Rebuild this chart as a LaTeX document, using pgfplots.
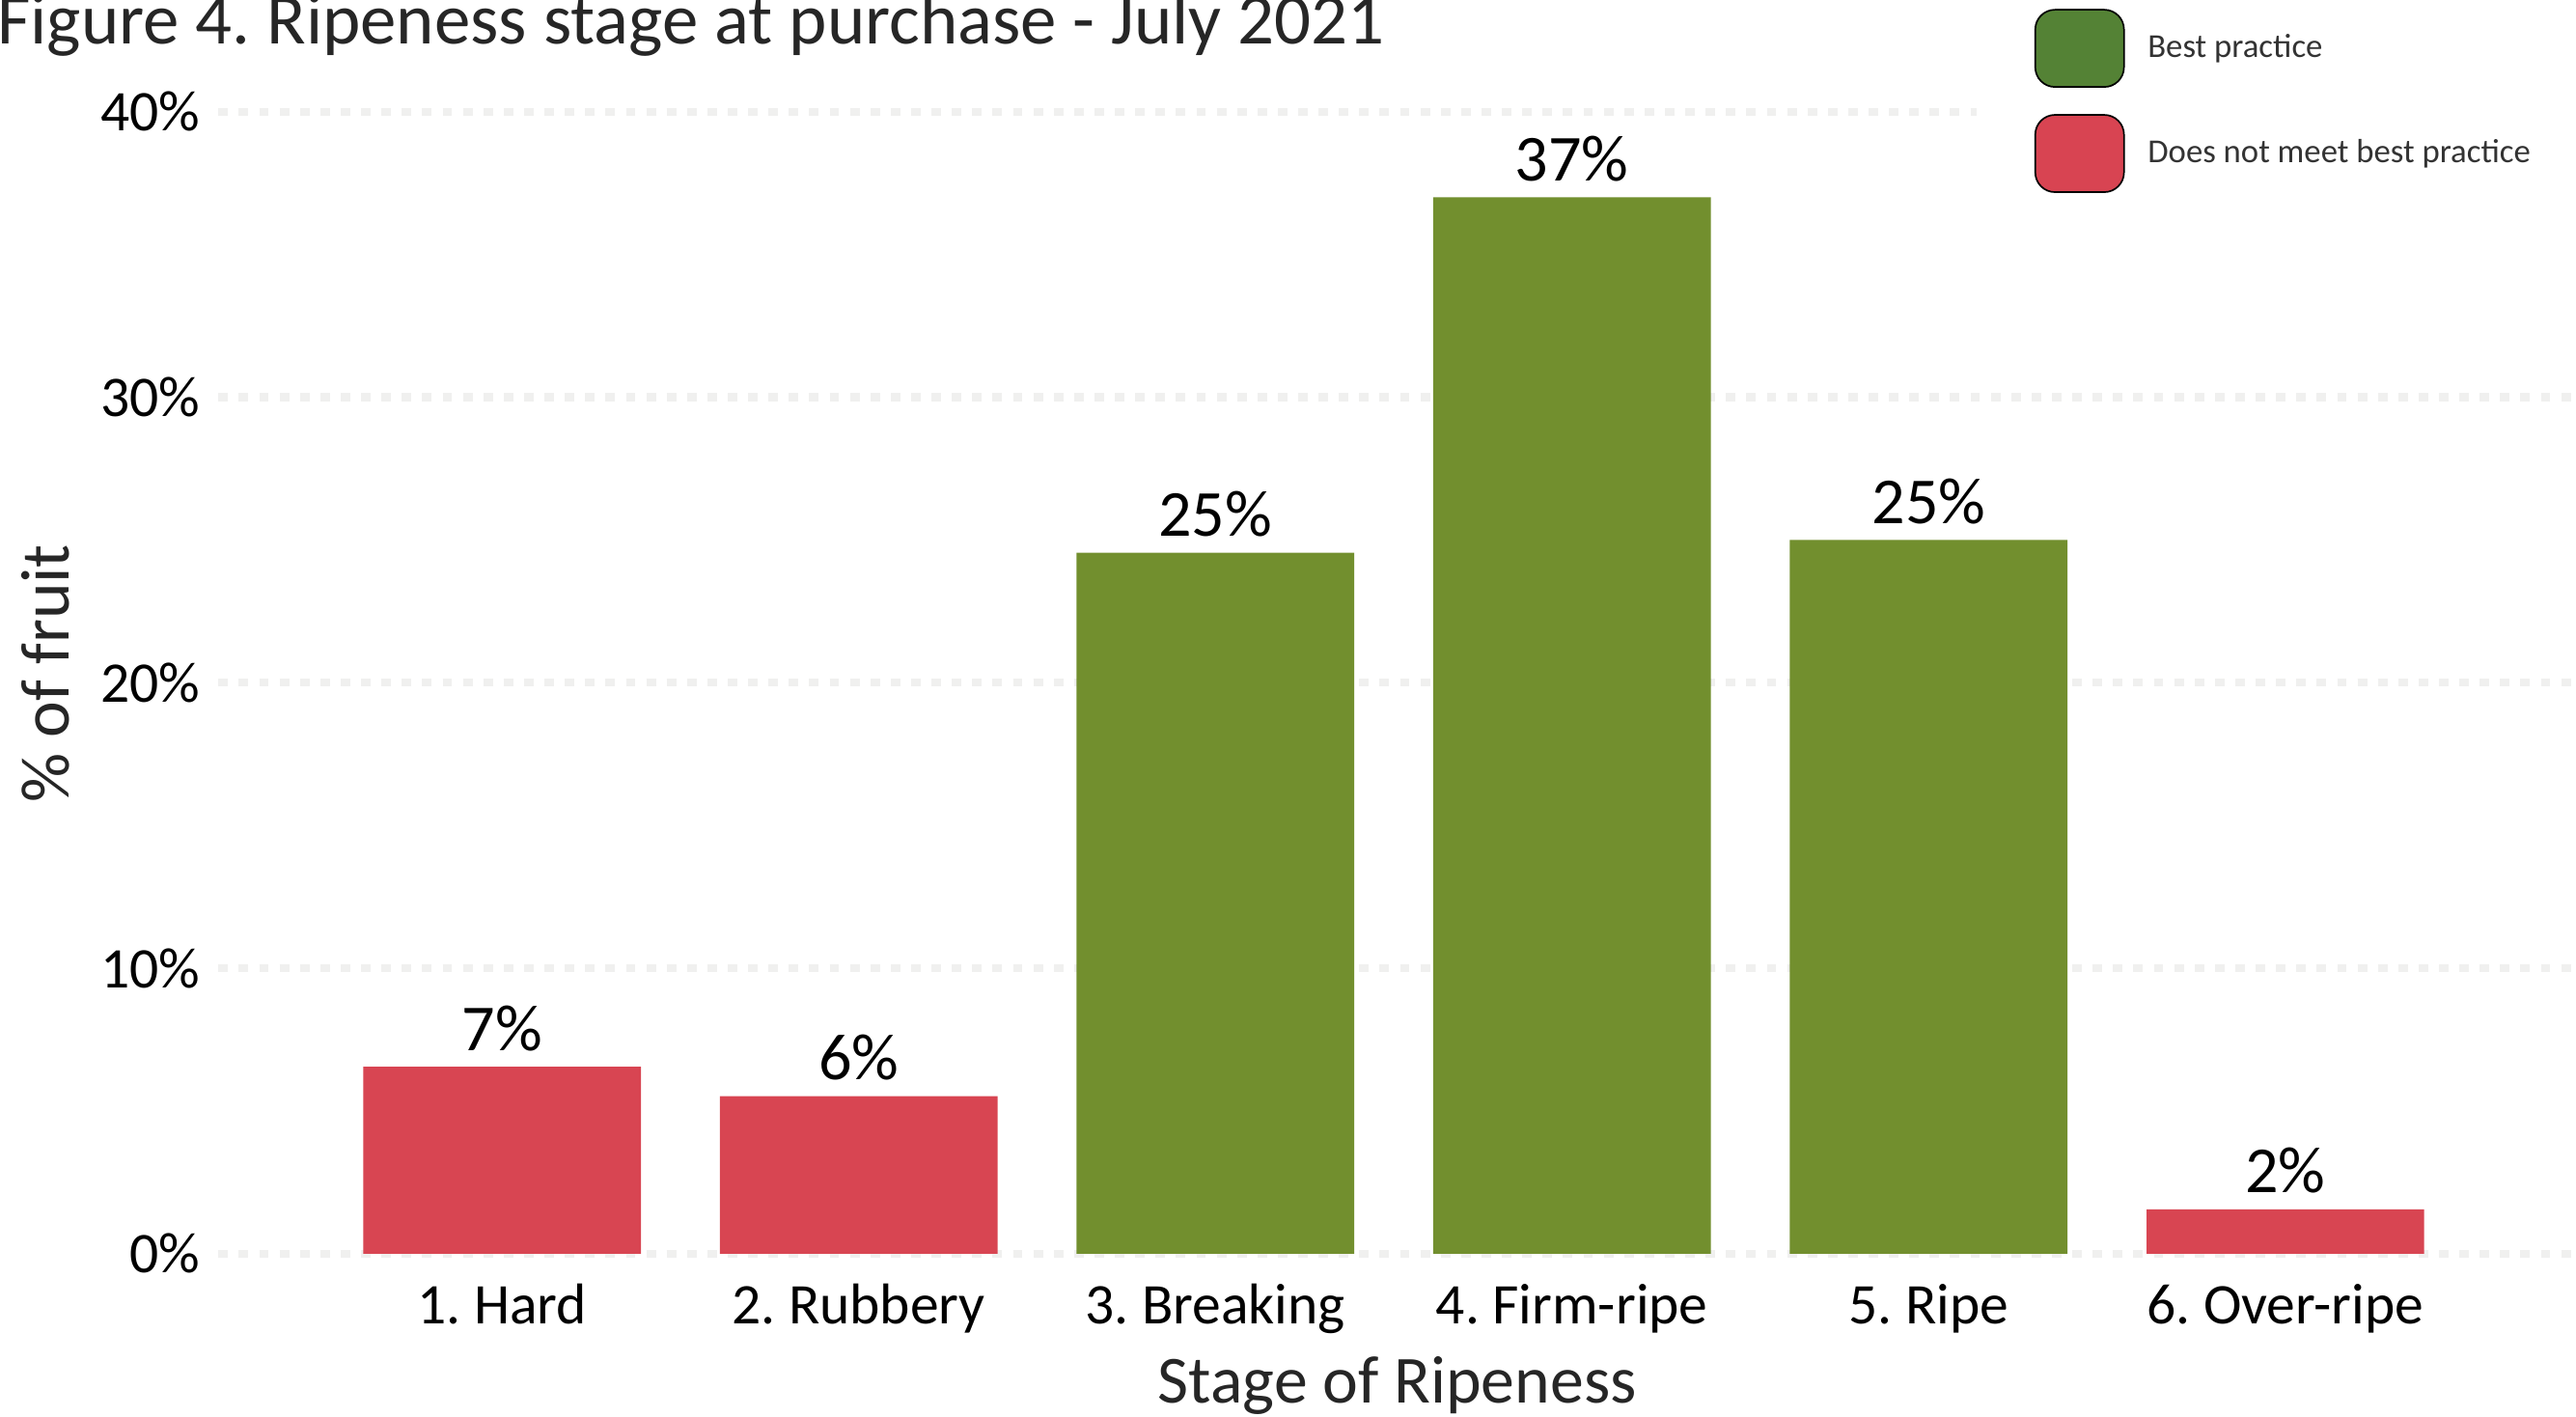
\documentclass[border=0pt]{standalone}
\usepackage{fontspec}
\setmainfont{Carlito}
\usepackage{pgfplots}
\pgfplotsset{compat=1.18}

\definecolor{barred}{RGB}{216,69,82}
\definecolor{bargreen}{RGB}{114,143,46}
\definecolor{legred}{RGB}{216,68,82}
\definecolor{leggreen}{RGB}{84,130,53}
\definecolor{gridgray}{RGB}{240,240,239}
\definecolor{titlegray}{RGB}{38,38,38}
\definecolor{leggray}{RGB}{51,51,51}

\begin{document}
\frenchspacing
\begin{tikzpicture}
\useasboundingbox (0,0) rectangle (784pt,431pt);
\clip (0,0) rectangle (784pt,431pt);

\node[anchor=base west, inner sep=0pt, text=titlegray, font=\fontsize{22}{26}\selectfont]
  at (-1pt,417.5pt) {Figure 4. Ripeness stage at purchase - July 2021};

\begin{axis}[
    at={(66.5pt,49.5pt)}, anchor=south west,
    scale only axis,
    width=717.5pt, height=347.5pt,
    xmin=-0.795, xmax=5.815,
    ymin=0, ymax=40,
    ybar, bar width=84.5pt, bar shift=0pt,
    axis line style={draw=none},
    tick style={draw=none},
    xtick={0,1,2,3,4,5},
    xticklabels={1. Hard,2. Rubbery,3. Breaking,4. Firm-ripe,5. Ripe,6. Over-ripe},
    ytick={0,10,20,30,40},
    yticklabels={0\%,10\%,20\%,30\%,40\%},
    xticklabel style={anchor=base, inner sep=0pt, yshift=-17pt,
        font=\fontsize{17.5}{21}\selectfont},
    yticklabel style={anchor=east, inner sep=0pt, xshift=-5.5pt,
        font=\fontsize{17.5}{21}\selectfont},
    ymajorgrids,
    grid style={gridgray, line width=2.4pt, dash pattern=on 2.9pt off 3.3pt},
    xlabel={Stage of Ripeness},
    xlabel style={at={(axis description cs:0.5,0)}, anchor=base, inner sep=0pt,
        yshift=-45.5pt, text=titlegray, font=\fontsize{20.5}{24}\selectfont},
    ylabel={\% of fruit},
    ylabel style={at={(axis description cs:-0.0732,0.508)}, anchor=center,
        inner sep=0pt, text=titlegray, font=\fontsize{21}{25}\selectfont},
    /pgf/number format/assume math mode=true,
    nodes near coords={\pgfmathprintnumber[fixed,precision=0]{\pgfplotspointmeta}\%},
    every node near coord/.append style={anchor=base, inner sep=0pt, yshift=5pt,
        text=black, font=\fontsize{20}{24}\selectfont},
    clip=false,
    legend style={at={(axis description cs:0.7456,1.0978)}, anchor=north west,
        draw=none, fill=white, inner xsep=17.5pt, inner ysep=2.5pt,
        row sep=8pt, column sep=7pt,
        nodes={inner sep=0pt, anchor=west, text=leggray,
            font=\fontsize{10.2}{12}\selectfont}},
    legend cell align=left,
]
\addplot[fill=bargreen, draw=none,
    legend image code/.code={\draw[fill=leggreen, draw=black, line width=0.5pt,
        rounded corners=6pt] (0pt,-11.75pt) rectangle (27pt,11.75pt);}]
coordinates {(2,24.55) (3,37.0) (4,25.0)};
\addlegendentry{Best practice}

\addplot[fill=barred, draw=none,
    legend image code/.code={\draw[fill=legred, draw=black, line width=0.5pt,
        rounded corners=6pt] (0pt,-11.75pt) rectangle (27pt,11.75pt);}]
coordinates {(0,6.55) (1,5.52) (5,1.55)};
\addlegendentry{Does not meet best practice}
\end{axis}
\end{tikzpicture}
\end{document}
